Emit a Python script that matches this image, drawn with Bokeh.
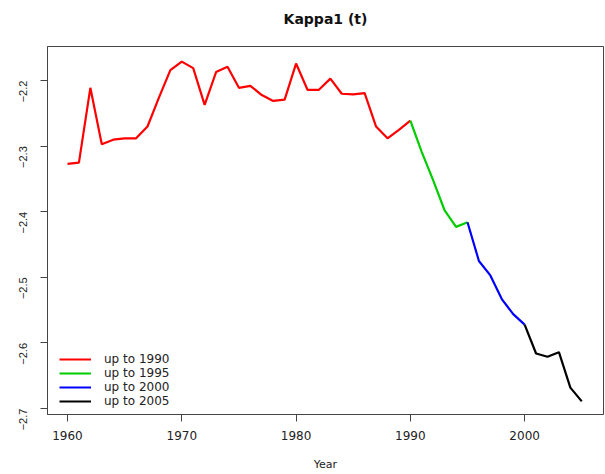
from bokeh.plotting import figure
from bokeh.models import Range1d, FixedTicker, Legend, LegendItem
from bokeh.embed import file_html
from bokeh.resources import INLINE
import math

years = list(range(1960, 2006))
kappa = [-2.327, -2.325, -2.211, -2.297, -2.290, -2.288, -2.288, -2.270, -2.226, -2.184,
         -2.171, -2.181, -2.237, -2.187, -2.179, -2.211, -2.208, -2.222, -2.231, -2.229,
         -2.174, -2.214, -2.214, -2.197, -2.220, -2.221, -2.219, -2.270, -2.288, -2.275,
         -2.261, -2.309, -2.352, -2.398, -2.423, -2.416, -2.475, -2.497, -2.533, -2.556,
         -2.572, -2.616, -2.621, -2.614, -2.668, -2.689]

segments = [("up to 1990", 1960, 1990, "#ff0000"),
            ("up to 1995", 1990, 1995, "#00cd00"),
            ("up to 2000", 1995, 2000, "#0000ff"),
            ("up to 2005", 2000, 2005, "#000000")]

x_ticks = [1960, 1970, 1980, 1990, 2000]
y_ticks = [-2.7, -2.6, -2.5, -2.4, -2.3, -2.2]
title_text = "Kappa1 (t)"

FONT = "DejaVu Sans"

p = figure(width=605, height=474, output_backend="svg", toolbar_location=None,
           x_range=Range1d(1958.25, 2006.9), y_range=Range1d(-2.709, -2.148),
           min_border_left=47, min_border_right=2, min_border_top=46, min_border_bottom=60)

# trailing blank line lifts the visible title line higher above the frame
p.title.text = title_text + "\n "
p.title.align = "center"
p.title.text_font = FONT
p.title.text_font_size = "14px"
p.title.text_font_style = "bold"
p.title.text_color = "#111111"
p.title.standoff = 8

p.xgrid.visible = False
p.ygrid.visible = False
p.outline_line_color = "#444444"
p.outline_line_width = 1

items = []
for name, a, b, col in segments:
    xs = [y for y in years if a <= y <= b]
    vs = [kappa[years.index(y)] for y in xs]
    r = p.line(xs, vs, line_color=col, line_width=2.2)
    items.append(LegendItem(label=name, renderers=[r]))

for ax in (p.xaxis[0], p.yaxis[0]):
    ax.axis_line_color = "#444444"
    ax.major_tick_line_color = "#444444"
    ax.major_tick_out = 7
    ax.major_tick_in = 0
    ax.minor_tick_line_color = None
    ax.major_label_text_font = FONT
    ax.major_label_text_color = "#222222"

p.xaxis.major_label_text_font_size = "12px"
p.yaxis.major_label_text_font = "Liberation Sans"
p.yaxis.major_label_text_font_size = "11px"
p.xaxis.ticker = FixedTicker(ticks=x_ticks)
p.yaxis.ticker = FixedTicker(ticks=y_ticks)
p.yaxis.major_label_orientation = math.pi / 2
p.xaxis.major_label_standoff = 9
p.yaxis.major_label_standoff = 17

p.xaxis.axis_label = "Year"
p.xaxis.axis_label_text_font = FONT
p.xaxis.axis_label_text_font_size = "11px"
p.xaxis.axis_label_text_font_style = "normal"
p.xaxis.axis_label_standoff = 15
p.xaxis.axis_label_text_color = "#222222"

legend = Legend(items=items, location=(12, 6))
legend.border_line_color = None
legend.background_fill_alpha = 0
legend.label_text_font = FONT
legend.label_text_font_size = "12px"
legend.label_text_color = "#222222"
legend.glyph_width = 32
legend.glyph_height = 14
legend.label_height = 14
legend.spacing = 0
legend.padding = 4
legend.margin = 0
legend.label_standoff = 13
p.add_layout(legend)

open("out.html", "w").write(file_html(p, INLINE))
